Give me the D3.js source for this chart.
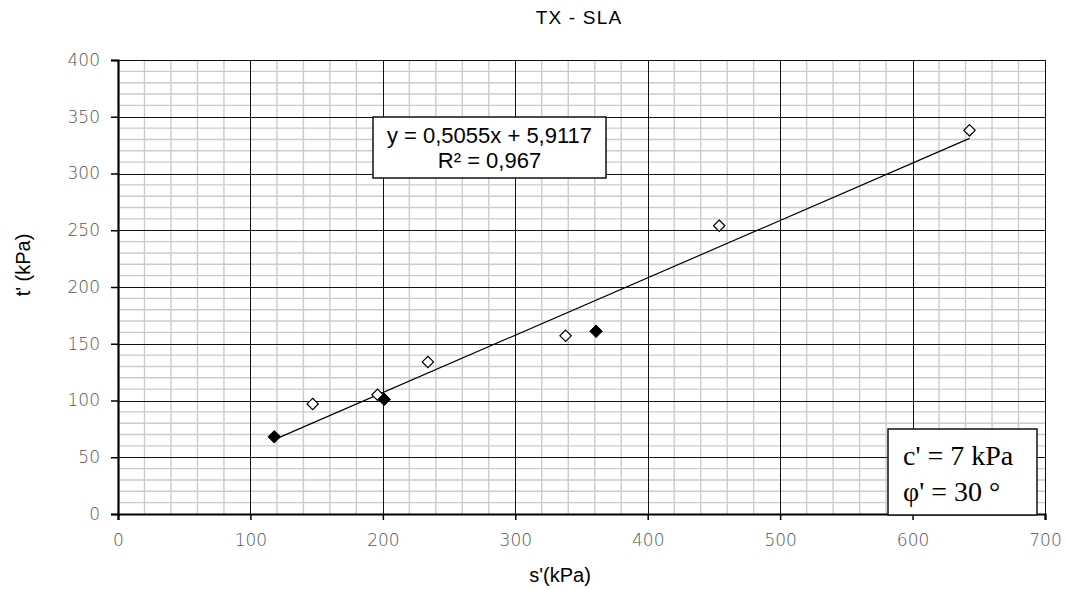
<!DOCTYPE html>
<html>
<head>
<meta charset="utf-8">
<script src="https://cdn.jsdelivr.net/npm/d3@7"></script>
<style>
  html, body { margin: 0; padding: 0; background: #fff; }
  svg { display: block; }
</style>
</head>
<body>
<svg id="chart" width="1067" height="589"></svg>
<script>
// Values
const openS = [147, 196, 234, 338, 454, 643];
const openT = [97, 105, 134, 157, 254, 338];
const filledS = [118, 201, 361];
const filledT = [68, 101, 161];
const xTicks = [0, 100, 200, 300, 400, 500, 600, 700];
const yTicks = [0, 50, 100, 150, 200, 250, 300, 350, 400];
const slope = 0.5055, intercept = 5.9117;
const eqLines = ["y = 0,5055x + 5,9117", "R² = 0,967"];
const paramLines = ["c' = 7 kPa", "φ' = 30 °"];

const svg = d3.select("#chart");
const margin = { left: 118, top: 60, right: 22, bottom: 75 };
const W = 1067 - margin.left - margin.right;
const H = 589 - margin.top - margin.bottom;

const x = d3.scaleLinear().domain([0, 700]).range([0, W]);
const y = d3.scaleLinear().domain([0, 400]).range([H, 0]);

const g = svg.append("g").attr("transform", `translate(${margin.left},${margin.top})`);

// minor grid
g.append("g").selectAll("line")
  .data(d3.range(0, 701, 20).filter(v => v % 100 !== 0))
  .join("line")
  .attr("x1", d => x(d)).attr("x2", d => x(d))
  .attr("y1", 0).attr("y2", H)
  .attr("stroke", "#cbcbcb").attr("stroke-width", 1.4);
g.append("g").selectAll("line")
  .data(d3.range(0, 401, 10).filter(v => v % 50 !== 0))
  .join("line")
  .attr("y1", d => y(d)).attr("y2", d => y(d))
  .attr("x1", 0).attr("x2", W)
  .attr("stroke", "#cbcbcb").attr("stroke-width", 1.4);

// major grid
g.append("g").selectAll("line")
  .data(xTicks)
  .join("line")
  .attr("x1", d => Math.round(x(d)) + 0.5).attr("x2", d => Math.round(x(d)) + 0.5)
  .attr("y1", 0).attr("y2", H)
  .attr("stroke", "#111").attr("stroke-width", 1);
g.append("g").selectAll("line")
  .data(yTicks)
  .join("line")
  .attr("y1", d => Math.round(y(d)) + 0.5).attr("y2", d => Math.round(y(d)) + 0.5)
  .attr("x1", 0).attr("x2", W)
  .attr("stroke", "#111").attr("stroke-width", 1);

// axes
const tickFont = "'DejaVu Sans ExtraLight', 'DejaVu Sans', sans-serif";
const xAxis = g.append("g").attr("transform", `translate(0,${H})`)
  .call(d3.axisBottom(x).tickValues(xTicks).tickSize(6).tickPadding(14));
const yAxis = g.append("g")
  .call(d3.axisLeft(y).tickValues(yTicks).tickSize(7).tickPadding(11));
[xAxis, yAxis].forEach(a => {
  a.select(".domain").attr("stroke", "#000").attr("stroke-width", 2.2);
  a.selectAll(".tick line").attr("stroke", "#000").attr("stroke-width", 1.5);
  a.selectAll(".tick text")
    .attr("font-family", tickFont).attr("font-weight", 200)
    .attr("font-size", 17).attr("fill", "#555");
});

// trendline over the data range
const allS = openS.concat(filledS);
const sExt = d3.extent(allS);
g.append("line")
  .attr("x1", x(sExt[0])).attr("y1", y(slope * sExt[0] + intercept))
  .attr("x2", x(sExt[1])).attr("y2", y(slope * sExt[1] + intercept))
  .attr("stroke", "#000").attr("stroke-width", 1.2);

// markers
const diamond = d3.symbol().type(d3.symbolDiamond2);
g.append("g").selectAll("path")
  .data(openS.map((s, i) => [s, openT[i]]))
  .join("path")
  .attr("d", diamond.size(82)())
  .attr("transform", d => `translate(${x(d[0])},${y(d[1])})`)
  .attr("fill", "#fff").attr("stroke", "#000").attr("stroke-width", 1.2);
g.append("g").selectAll("path")
  .data(filledS.map((s, i) => [s, filledT[i]]))
  .join("path")
  .attr("d", diamond.size(100)())
  .attr("transform", d => `translate(${x(d[0])},${y(d[1])})`)
  .attr("fill", "#000").attr("stroke", "#000").attr("stroke-width", 1);

// equation box
const eqBox = svg.append("g").attr("transform", "translate(373,117)");
eqBox.append("rect").attr("width", 233).attr("height", 61)
  .attr("fill", "#fff").attr("stroke", "#111").attr("stroke-width", 1.5);
eqBox.selectAll("text").data(eqLines).join("text")
  .attr("x", 116.5).attr("y", (d, i) => 26 + i * 25)
  .attr("text-anchor", "middle")
  .attr("font-family", "'Liberation Sans', Arial, sans-serif")
  .attr("font-size", 22).attr("fill", "#000")
  .text(d => d);

// parameter box
const pBox = svg.append("g").attr("transform", "translate(888,429)");
pBox.append("rect").attr("width", 149).attr("height", 86)
  .attr("fill", "#fff").attr("stroke", "#111").attr("stroke-width", 1.5);
pBox.selectAll("text").data(paramLines).join("text")
  .attr("x", 15).attr("y", (d, i) => 36 + i * 36)
  .attr("font-family", "'Liberation Serif', 'Times New Roman', serif")
  .attr("font-size", 28).attr("fill", "#000")
  .text(d => d);

// titles
const sansFont = "'Liberation Sans', Arial, sans-serif";
svg.append("text").attr("x", 579).attr("y", 24)
  .attr("text-anchor", "middle").attr("font-family", sansFont)
  .attr("font-size", 19).attr("letter-spacing", 1.2).attr("fill", "#000")
  .text("TX - SLA");
svg.append("text").attr("x", 560).attr("y", 582)
  .attr("text-anchor", "middle").attr("font-family", sansFont)
  .attr("font-size", 20).attr("fill", "#000")
  .text("s'(kPa)");
svg.append("text")
  .attr("transform", "translate(30,265) rotate(-90)")
  .attr("text-anchor", "middle").attr("font-family", sansFont)
  .attr("font-size", 20).attr("fill", "#000")
  .text("t' (kPa)");
</script>
</body>
</html>
